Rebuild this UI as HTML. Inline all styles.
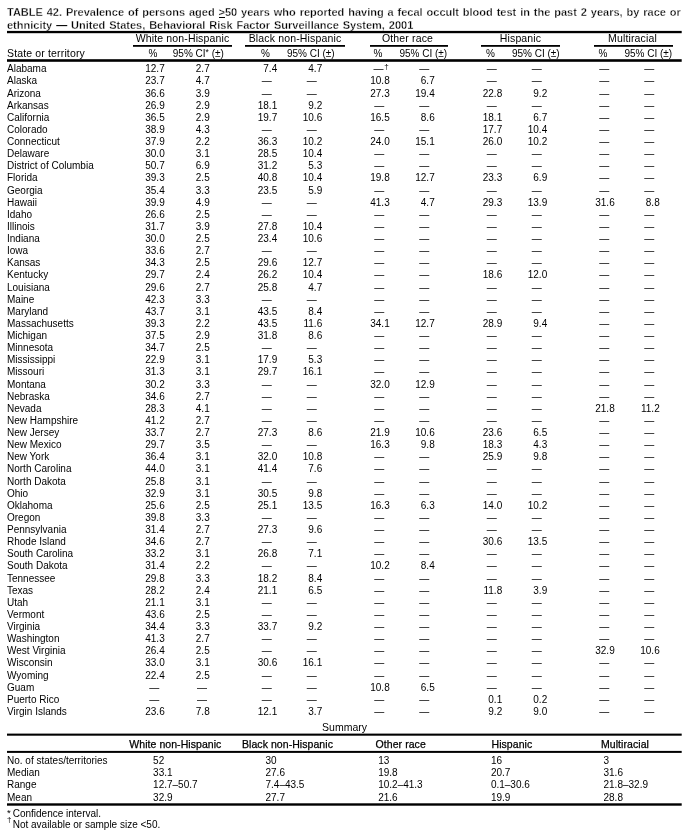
<!DOCTYPE html>
<html lang="en">
<head>
<meta charset="utf-8">
<title>TABLE 42</title>
<style>
html,body{margin:0;padding:0;background:#fff;}
body{filter:blur(0.35px);width:690px;height:837px;position:relative;overflow:hidden;font-family:"Liberation Sans",sans-serif;color:#000;}
.t{position:absolute;white-space:nowrap;}
.ttl u{position:relative;text-decoration:none;}
.ttl u b{position:absolute;left:0.3px;right:0.3px;top:11.1px;height:1px;background:#000;}
.ttl{-webkit-text-stroke:0.3px #fff;font-weight:bold;font-size:11px;line-height:13px;left:7px;word-spacing:0.85px;}
.h{font-size:10.5px;line-height:13px;letter-spacing:0.15px;}
.hc{text-align:center;}
.sm{letter-spacing:0.06px;-webkit-text-stroke:0.25px #000;}
.r{position:absolute;left:0;width:690px;height:12px;font-size:10px;line-height:12px;white-space:nowrap;}
.r b{position:absolute;left:7px;top:0;font-weight:normal;}
.r i{position:absolute;top:0;font-style:normal;text-align:right;}
.r s{position:absolute;top:0;text-decoration:none;}
.r em{position:absolute;left:100%;margin-left:0.9px;top:-1px;font-style:normal;font-size:8px;line-height:10px;}
.p0{right:525.3px;}
.c0{right:480.3px;}
.dp0{right:530.7px;}
.dc0{right:482.9px;}
.p1{right:412.8px;}
.c1{right:367.8px;}
.dp1{right:418.2px;}
.dc1{right:373.2px;}
.p2{right:300.3px;}
.c2{right:255.3px;}
.dp2{right:305.7px;}
.dc2{right:260.7px;}
.p3{right:187.8px;}
.c3{right:142.8px;}
.dp3{right:193.2px;}
.dc3{right:148.2px;}
.p4{right:75.3px;}
.c4{right:30.3px;}
.dp4{right:80.7px;}
.dc4{right:35.7px;}
.rules{position:absolute;left:0;top:0;}
.sh{font-size:10px;line-height:13px;}
.st{font-size:10.5px;line-height:13px;letter-spacing:0.15px;}
sup{font-size:8.5px;line-height:0;vertical-align:2px;}
.fn{position:absolute;left:7px;font-size:10px;line-height:12px;white-space:nowrap;}
.fn sup{position:absolute;left:0;top:-2px;font-size:8px;line-height:12px;vertical-align:baseline;}
.fn span{position:absolute;left:5.7px;top:0;}
</style>
</head>
<body>
<div class="t ttl" style="top:6px">TABLE 42. Prevalence of persons aged <u>&gt;<b></b></u>50 years who reported having a fecal occult blood test in the past 2 years, by race or</div>
<div class="t ttl" style="top:19px;word-spacing:0.85px">ethnicity <span style="-webkit-text-stroke:0">—</span> United States, Behavioral Risk Factor Surveillance System, 2001</div>
<div class="t h hc" style="left:123px;width:119px;top:32px">White non-Hispanic</div>
<div class="t sh hc" style="left:133px;width:40px;top:47px">%</div>
<div class="t sh hc" style="left:158.3px;width:80px;top:47px">95% CI<sup>*</sup> (±)</div>
<div class="t h hc" style="left:235px;width:120px;top:32px">Black non-Hispanic</div>
<div class="t sh hc" style="left:245.5px;width:40px;top:47px">%</div>
<div class="t sh hc" style="left:270.8px;width:80px;top:47px">95% CI (±)</div>
<div class="t h hc" style="left:358.5px;width:98px;top:32px">Other race</div>
<div class="t sh hc" style="left:358px;width:40px;top:47px">%</div>
<div class="t sh hc" style="left:383.3px;width:80px;top:47px">95% CI (±)</div>
<div class="t h hc" style="left:471px;width:99px;top:32px">Hispanic</div>
<div class="t sh hc" style="left:470.5px;width:40px;top:47px">%</div>
<div class="t sh hc" style="left:495.8px;width:80px;top:47px">95% CI (±)</div>
<div class="t h hc" style="left:583px;width:99px;top:32px">Multiracial</div>
<div class="t sh hc" style="left:583px;width:40px;top:47px">%</div>
<div class="t sh hc" style="left:608.3px;width:80px;top:47px">95% CI (±)</div>
<div class="t st" style="left:7px;top:47px">State or territory</div>
<div class="r" style="top:63px"><b>Alabama</b><i class="p0">12.7</i><i class="c0">2.7</i><i class="p1">7.4</i><i class="c1">4.7</i><i class="dp2" style="margin-right:0.9px">—<em>†</em></i><i class="dc2">—</i><i class="dp3">—</i><i class="dc3">—</i><i class="dp4">—</i><i class="dc4">—</i></div>
<div class="r" style="top:75px"><b>Alaska</b><i class="p0">23.7</i><i class="c0">4.7</i><i class="dp1">—</i><i class="dc1">—</i><i class="p2">10.8</i><i class="c2">6.7</i><i class="dp3">—</i><i class="dc3">—</i><i class="dp4">—</i><i class="dc4">—</i></div>
<div class="r" style="top:88px"><b>Arizona</b><i class="p0">36.6</i><i class="c0">3.9</i><i class="dp1">—</i><i class="dc1">—</i><i class="p2">27.3</i><i class="c2">19.4</i><i class="p3">22.8</i><i class="c3">9.2</i><i class="dp4">—</i><i class="dc4">—</i></div>
<div class="r" style="top:100px"><b>Arkansas</b><i class="p0">26.9</i><i class="c0">2.9</i><i class="p1">18.1</i><i class="c1">9.2</i><i class="dp2">—</i><i class="dc2">—</i><i class="dp3">—</i><i class="dc3">—</i><i class="dp4">—</i><i class="dc4">—</i></div>
<div class="r" style="top:112px"><b>California</b><i class="p0">36.5</i><i class="c0">2.9</i><i class="p1">19.7</i><i class="c1">10.6</i><i class="p2">16.5</i><i class="c2">8.6</i><i class="p3">18.1</i><i class="c3">6.7</i><i class="dp4">—</i><i class="dc4">—</i></div>
<div class="r" style="top:124px"><b>Colorado</b><i class="p0">38.9</i><i class="c0">4.3</i><i class="dp1">—</i><i class="dc1">—</i><i class="dp2">—</i><i class="dc2">—</i><i class="p3">17.7</i><i class="c3">10.4</i><i class="dp4">—</i><i class="dc4">—</i></div>
<div class="r" style="top:136px"><b>Connecticut</b><i class="p0">37.9</i><i class="c0">2.2</i><i class="p1">36.3</i><i class="c1">10.2</i><i class="p2">24.0</i><i class="c2">15.1</i><i class="p3">26.0</i><i class="c3">10.2</i><i class="dp4">—</i><i class="dc4">—</i></div>
<div class="r" style="top:148px"><b>Delaware</b><i class="p0">30.0</i><i class="c0">3.1</i><i class="p1">28.5</i><i class="c1">10.4</i><i class="dp2">—</i><i class="dc2">—</i><i class="dp3">—</i><i class="dc3">—</i><i class="dp4">—</i><i class="dc4">—</i></div>
<div class="r" style="top:160px"><b>District of Columbia</b><i class="p0">50.7</i><i class="c0">6.9</i><i class="p1">31.2</i><i class="c1">5.3</i><i class="dp2">—</i><i class="dc2">—</i><i class="dp3">—</i><i class="dc3">—</i><i class="dp4">—</i><i class="dc4">—</i></div>
<div class="r" style="top:172px"><b>Florida</b><i class="p0">39.3</i><i class="c0">2.5</i><i class="p1">40.8</i><i class="c1">10.4</i><i class="p2">19.8</i><i class="c2">12.7</i><i class="p3">23.3</i><i class="c3">6.9</i><i class="dp4">—</i><i class="dc4">—</i></div>
<div class="r" style="top:185px"><b>Georgia</b><i class="p0">35.4</i><i class="c0">3.3</i><i class="p1">23.5</i><i class="c1">5.9</i><i class="dp2">—</i><i class="dc2">—</i><i class="dp3">—</i><i class="dc3">—</i><i class="dp4">—</i><i class="dc4">—</i></div>
<div class="r" style="top:197px"><b>Hawaii</b><i class="p0">39.9</i><i class="c0">4.9</i><i class="dp1">—</i><i class="dc1">—</i><i class="p2">41.3</i><i class="c2">4.7</i><i class="p3">29.3</i><i class="c3">13.9</i><i class="p4">31.6</i><i class="c4">8.8</i></div>
<div class="r" style="top:209px"><b>Idaho</b><i class="p0">26.6</i><i class="c0">2.5</i><i class="dp1">—</i><i class="dc1">—</i><i class="dp2">—</i><i class="dc2">—</i><i class="dp3">—</i><i class="dc3">—</i><i class="dp4">—</i><i class="dc4">—</i></div>
<div class="r" style="top:221px"><b>Illinois</b><i class="p0">31.7</i><i class="c0">3.9</i><i class="p1">27.8</i><i class="c1">10.4</i><i class="dp2">—</i><i class="dc2">—</i><i class="dp3">—</i><i class="dc3">—</i><i class="dp4">—</i><i class="dc4">—</i></div>
<div class="r" style="top:233px"><b>Indiana</b><i class="p0">30.0</i><i class="c0">2.5</i><i class="p1">23.4</i><i class="c1">10.6</i><i class="dp2">—</i><i class="dc2">—</i><i class="dp3">—</i><i class="dc3">—</i><i class="dp4">—</i><i class="dc4">—</i></div>
<div class="r" style="top:245px"><b>Iowa</b><i class="p0">33.6</i><i class="c0">2.7</i><i class="dp1">—</i><i class="dc1">—</i><i class="dp2">—</i><i class="dc2">—</i><i class="dp3">—</i><i class="dc3">—</i><i class="dp4">—</i><i class="dc4">—</i></div>
<div class="r" style="top:257px"><b>Kansas</b><i class="p0">34.3</i><i class="c0">2.5</i><i class="p1">29.6</i><i class="c1">12.7</i><i class="dp2">—</i><i class="dc2">—</i><i class="dp3">—</i><i class="dc3">—</i><i class="dp4">—</i><i class="dc4">—</i></div>
<div class="r" style="top:269px"><b>Kentucky</b><i class="p0">29.7</i><i class="c0">2.4</i><i class="p1">26.2</i><i class="c1">10.4</i><i class="dp2">—</i><i class="dc2">—</i><i class="p3">18.6</i><i class="c3">12.0</i><i class="dp4">—</i><i class="dc4">—</i></div>
<div class="r" style="top:282px"><b>Louisiana</b><i class="p0">29.6</i><i class="c0">2.7</i><i class="p1">25.8</i><i class="c1">4.7</i><i class="dp2">—</i><i class="dc2">—</i><i class="dp3">—</i><i class="dc3">—</i><i class="dp4">—</i><i class="dc4">—</i></div>
<div class="r" style="top:294px"><b>Maine</b><i class="p0">42.3</i><i class="c0">3.3</i><i class="dp1">—</i><i class="dc1">—</i><i class="dp2">—</i><i class="dc2">—</i><i class="dp3">—</i><i class="dc3">—</i><i class="dp4">—</i><i class="dc4">—</i></div>
<div class="r" style="top:306px"><b>Maryland</b><i class="p0">43.7</i><i class="c0">3.1</i><i class="p1">43.5</i><i class="c1">8.4</i><i class="dp2">—</i><i class="dc2">—</i><i class="dp3">—</i><i class="dc3">—</i><i class="dp4">—</i><i class="dc4">—</i></div>
<div class="r" style="top:318px"><b>Massachusetts</b><i class="p0">39.3</i><i class="c0">2.2</i><i class="p1">43.5</i><i class="c1">11.6</i><i class="p2">34.1</i><i class="c2">12.7</i><i class="p3">28.9</i><i class="c3">9.4</i><i class="dp4">—</i><i class="dc4">—</i></div>
<div class="r" style="top:330px"><b>Michigan</b><i class="p0">37.5</i><i class="c0">2.9</i><i class="p1">31.8</i><i class="c1">8.6</i><i class="dp2">—</i><i class="dc2">—</i><i class="dp3">—</i><i class="dc3">—</i><i class="dp4">—</i><i class="dc4">—</i></div>
<div class="r" style="top:342px"><b>Minnesota</b><i class="p0">34.7</i><i class="c0">2.5</i><i class="dp1">—</i><i class="dc1">—</i><i class="dp2">—</i><i class="dc2">—</i><i class="dp3">—</i><i class="dc3">—</i><i class="dp4">—</i><i class="dc4">—</i></div>
<div class="r" style="top:354px"><b>Mississippi</b><i class="p0">22.9</i><i class="c0">3.1</i><i class="p1">17.9</i><i class="c1">5.3</i><i class="dp2">—</i><i class="dc2">—</i><i class="dp3">—</i><i class="dc3">—</i><i class="dp4">—</i><i class="dc4">—</i></div>
<div class="r" style="top:366px"><b>Missouri</b><i class="p0">31.3</i><i class="c0">3.1</i><i class="p1">29.7</i><i class="c1">16.1</i><i class="dp2">—</i><i class="dc2">—</i><i class="dp3">—</i><i class="dc3">—</i><i class="dp4">—</i><i class="dc4">—</i></div>
<div class="r" style="top:379px"><b>Montana</b><i class="p0">30.2</i><i class="c0">3.3</i><i class="dp1">—</i><i class="dc1">—</i><i class="p2">32.0</i><i class="c2">12.9</i><i class="dp3">—</i><i class="dc3">—</i><i class="dp4">—</i><i class="dc4">—</i></div>
<div class="r" style="top:391px"><b>Nebraska</b><i class="p0">34.6</i><i class="c0">2.7</i><i class="dp1">—</i><i class="dc1">—</i><i class="dp2">—</i><i class="dc2">—</i><i class="dp3">—</i><i class="dc3">—</i><i class="dp4">—</i><i class="dc4">—</i></div>
<div class="r" style="top:403px"><b>Nevada</b><i class="p0">28.3</i><i class="c0">4.1</i><i class="dp1">—</i><i class="dc1">—</i><i class="dp2">—</i><i class="dc2">—</i><i class="dp3">—</i><i class="dc3">—</i><i class="p4">21.8</i><i class="c4">11.2</i></div>
<div class="r" style="top:415px"><b>New Hampshire</b><i class="p0">41.2</i><i class="c0">2.7</i><i class="dp1">—</i><i class="dc1">—</i><i class="dp2">—</i><i class="dc2">—</i><i class="dp3">—</i><i class="dc3">—</i><i class="dp4">—</i><i class="dc4">—</i></div>
<div class="r" style="top:427px"><b>New Jersey</b><i class="p0">33.7</i><i class="c0">2.7</i><i class="p1">27.3</i><i class="c1">8.6</i><i class="p2">21.9</i><i class="c2">10.6</i><i class="p3">23.6</i><i class="c3">6.5</i><i class="dp4">—</i><i class="dc4">—</i></div>
<div class="r" style="top:439px"><b>New Mexico</b><i class="p0">29.7</i><i class="c0">3.5</i><i class="dp1">—</i><i class="dc1">—</i><i class="p2">16.3</i><i class="c2">9.8</i><i class="p3">18.3</i><i class="c3">4.3</i><i class="dp4">—</i><i class="dc4">—</i></div>
<div class="r" style="top:451px"><b>New York</b><i class="p0">36.4</i><i class="c0">3.1</i><i class="p1">32.0</i><i class="c1">10.8</i><i class="dp2">—</i><i class="dc2">—</i><i class="p3">25.9</i><i class="c3">9.8</i><i class="dp4">—</i><i class="dc4">—</i></div>
<div class="r" style="top:463px"><b>North Carolina</b><i class="p0">44.0</i><i class="c0">3.1</i><i class="p1">41.4</i><i class="c1">7.6</i><i class="dp2">—</i><i class="dc2">—</i><i class="dp3">—</i><i class="dc3">—</i><i class="dp4">—</i><i class="dc4">—</i></div>
<div class="r" style="top:476px"><b>North Dakota</b><i class="p0">25.8</i><i class="c0">3.1</i><i class="dp1">—</i><i class="dc1">—</i><i class="dp2">—</i><i class="dc2">—</i><i class="dp3">—</i><i class="dc3">—</i><i class="dp4">—</i><i class="dc4">—</i></div>
<div class="r" style="top:488px"><b>Ohio</b><i class="p0">32.9</i><i class="c0">3.1</i><i class="p1">30.5</i><i class="c1">9.8</i><i class="dp2">—</i><i class="dc2">—</i><i class="dp3">—</i><i class="dc3">—</i><i class="dp4">—</i><i class="dc4">—</i></div>
<div class="r" style="top:500px"><b>Oklahoma</b><i class="p0">25.6</i><i class="c0">2.5</i><i class="p1">25.1</i><i class="c1">13.5</i><i class="p2">16.3</i><i class="c2">6.3</i><i class="p3">14.0</i><i class="c3">10.2</i><i class="dp4">—</i><i class="dc4">—</i></div>
<div class="r" style="top:512px"><b>Oregon</b><i class="p0">39.8</i><i class="c0">3.3</i><i class="dp1">—</i><i class="dc1">—</i><i class="dp2">—</i><i class="dc2">—</i><i class="dp3">—</i><i class="dc3">—</i><i class="dp4">—</i><i class="dc4">—</i></div>
<div class="r" style="top:524px"><b>Pennsylvania</b><i class="p0">31.4</i><i class="c0">2.7</i><i class="p1">27.3</i><i class="c1">9.6</i><i class="dp2">—</i><i class="dc2">—</i><i class="dp3">—</i><i class="dc3">—</i><i class="dp4">—</i><i class="dc4">—</i></div>
<div class="r" style="top:536px"><b>Rhode Island</b><i class="p0">34.6</i><i class="c0">2.7</i><i class="dp1">—</i><i class="dc1">—</i><i class="dp2">—</i><i class="dc2">—</i><i class="p3">30.6</i><i class="c3">13.5</i><i class="dp4">—</i><i class="dc4">—</i></div>
<div class="r" style="top:548px"><b>South Carolina</b><i class="p0">33.2</i><i class="c0">3.1</i><i class="p1">26.8</i><i class="c1">7.1</i><i class="dp2">—</i><i class="dc2">—</i><i class="dp3">—</i><i class="dc3">—</i><i class="dp4">—</i><i class="dc4">—</i></div>
<div class="r" style="top:560px"><b>South Dakota</b><i class="p0">31.4</i><i class="c0">2.2</i><i class="dp1">—</i><i class="dc1">—</i><i class="p2">10.2</i><i class="c2">8.4</i><i class="dp3">—</i><i class="dc3">—</i><i class="dp4">—</i><i class="dc4">—</i></div>
<div class="r" style="top:573px"><b>Tennessee</b><i class="p0">29.8</i><i class="c0">3.3</i><i class="p1">18.2</i><i class="c1">8.4</i><i class="dp2">—</i><i class="dc2">—</i><i class="dp3">—</i><i class="dc3">—</i><i class="dp4">—</i><i class="dc4">—</i></div>
<div class="r" style="top:585px"><b>Texas</b><i class="p0">28.2</i><i class="c0">2.4</i><i class="p1">21.1</i><i class="c1">6.5</i><i class="dp2">—</i><i class="dc2">—</i><i class="p3">11.8</i><i class="c3">3.9</i><i class="dp4">—</i><i class="dc4">—</i></div>
<div class="r" style="top:597px"><b>Utah</b><i class="p0">21.1</i><i class="c0">3.1</i><i class="dp1">—</i><i class="dc1">—</i><i class="dp2">—</i><i class="dc2">—</i><i class="dp3">—</i><i class="dc3">—</i><i class="dp4">—</i><i class="dc4">—</i></div>
<div class="r" style="top:609px"><b>Vermont</b><i class="p0">43.6</i><i class="c0">2.5</i><i class="dp1">—</i><i class="dc1">—</i><i class="dp2">—</i><i class="dc2">—</i><i class="dp3">—</i><i class="dc3">—</i><i class="dp4">—</i><i class="dc4">—</i></div>
<div class="r" style="top:621px"><b>Virginia</b><i class="p0">34.4</i><i class="c0">3.3</i><i class="p1">33.7</i><i class="c1">9.2</i><i class="dp2">—</i><i class="dc2">—</i><i class="dp3">—</i><i class="dc3">—</i><i class="dp4">—</i><i class="dc4">—</i></div>
<div class="r" style="top:633px"><b>Washington</b><i class="p0">41.3</i><i class="c0">2.7</i><i class="dp1">—</i><i class="dc1">—</i><i class="dp2">—</i><i class="dc2">—</i><i class="dp3">—</i><i class="dc3">—</i><i class="dp4">—</i><i class="dc4">—</i></div>
<div class="r" style="top:645px"><b>West Virginia</b><i class="p0">26.4</i><i class="c0">2.5</i><i class="dp1">—</i><i class="dc1">—</i><i class="dp2">—</i><i class="dc2">—</i><i class="dp3">—</i><i class="dc3">—</i><i class="p4">32.9</i><i class="c4">10.6</i></div>
<div class="r" style="top:657px"><b>Wisconsin</b><i class="p0">33.0</i><i class="c0">3.1</i><i class="p1">30.6</i><i class="c1">16.1</i><i class="dp2">—</i><i class="dc2">—</i><i class="dp3">—</i><i class="dc3">—</i><i class="dp4">—</i><i class="dc4">—</i></div>
<div class="r" style="top:670px"><b>Wyoming</b><i class="p0">22.4</i><i class="c0">2.5</i><i class="dp1">—</i><i class="dc1">—</i><i class="dp2">—</i><i class="dc2">—</i><i class="dp3">—</i><i class="dc3">—</i><i class="dp4">—</i><i class="dc4">—</i></div>
<div class="r" style="top:682px"><b>Guam</b><i class="dp0">—</i><i class="dc0">—</i><i class="dp1">—</i><i class="dc1">—</i><i class="p2">10.8</i><i class="c2">6.5</i><i class="dp3">—</i><i class="dc3">—</i><i class="dp4">—</i><i class="dc4">—</i></div>
<div class="r" style="top:694px"><b>Puerto Rico</b><i class="dp0">—</i><i class="dc0">—</i><i class="dp1">—</i><i class="dc1">—</i><i class="dp2">—</i><i class="dc2">—</i><i class="p3">0.1</i><i class="c3">0.2</i><i class="dp4">—</i><i class="dc4">—</i></div>
<div class="r" style="top:706px"><b>Virgin Islands</b><i class="p0">23.6</i><i class="c0">7.8</i><i class="p1">12.1</i><i class="c1">3.7</i><i class="dp2">—</i><i class="dc2">—</i><i class="p3">9.2</i><i class="c3">9.0</i><i class="dp4">—</i><i class="dc4">—</i></div>
<div class="t h hc" style="left:294.6px;width:100px;letter-spacing:0.03px;top:721px">Summary</div>
<div class="t h sm" style="left:129.3px;top:738px">White non-Hispanic</div>
<div class="t h sm" style="left:242px;top:738px">Black non-Hispanic</div>
<div class="t h sm" style="left:375.6px;top:738px">Other race</div>
<div class="t h sm" style="left:491.5px;top:738px">Hispanic</div>
<div class="t h sm" style="left:601px;top:738px">Multiracial</div>
<div class="r" style="top:755px"><b>No. of states/territories</b><s style="left:153.1px">52</s><s style="left:265.5px">30</s><s style="left:378.2px">13</s><s style="left:490.9px">16</s><s style="left:603.5px">3</s></div>
<div class="r" style="top:767px"><b>Median</b><s style="left:153.1px">33.1</s><s style="left:265.5px">27.6</s><s style="left:378.2px">19.8</s><s style="left:490.9px">20.7</s><s style="left:603.5px">31.6</s></div>
<div class="r" style="top:779px"><b>Range</b><s style="left:153.1px">12.7–50.7</s><s style="left:265.5px">7.4–43.5</s><s style="left:378.2px">10.2–41.3</s><s style="left:490.9px">0.1–30.6</s><s style="left:603.5px">21.8–32.9</s></div>
<div class="r" style="top:792px"><b>Mean</b><s style="left:153.1px">32.9</s><s style="left:265.5px">27.7</s><s style="left:378.2px">21.6</s><s style="left:490.9px">19.9</s><s style="left:603.5px">28.8</s></div>
<div class="fn" style="top:808px"><sup style="font-size:9.5px;top:-1px">*</sup><span>Confidence interval.</span></div>
<div class="fn" style="top:819px"><sup style="top:-5px">†</sup><span>Not available or sample size &lt;50.</span></div>
<svg class="rules" width="690" height="837" viewBox="0 0 690 837"><rect x="7" y="30.9" width="674.7" height="2.3" fill="#000"/><rect x="133" y="45" width="99" height="1.8" fill="#000"/><rect x="245" y="45" width="100" height="1.8" fill="#000"/><rect x="370" y="45" width="78" height="1.8" fill="#000"/><rect x="481" y="45" width="79" height="1.8" fill="#000"/><rect x="594" y="45" width="79" height="1.8" fill="#000"/><rect x="7" y="59.2" width="674.7" height="2.6" fill="#000"/><rect x="7" y="733.6" width="674.7" height="2.1" fill="#000"/><rect x="7" y="750.9" width="674.7" height="2" fill="#000"/><rect x="7" y="803.3" width="674.7" height="2.4" fill="#000"/></svg>
</body>
</html>
